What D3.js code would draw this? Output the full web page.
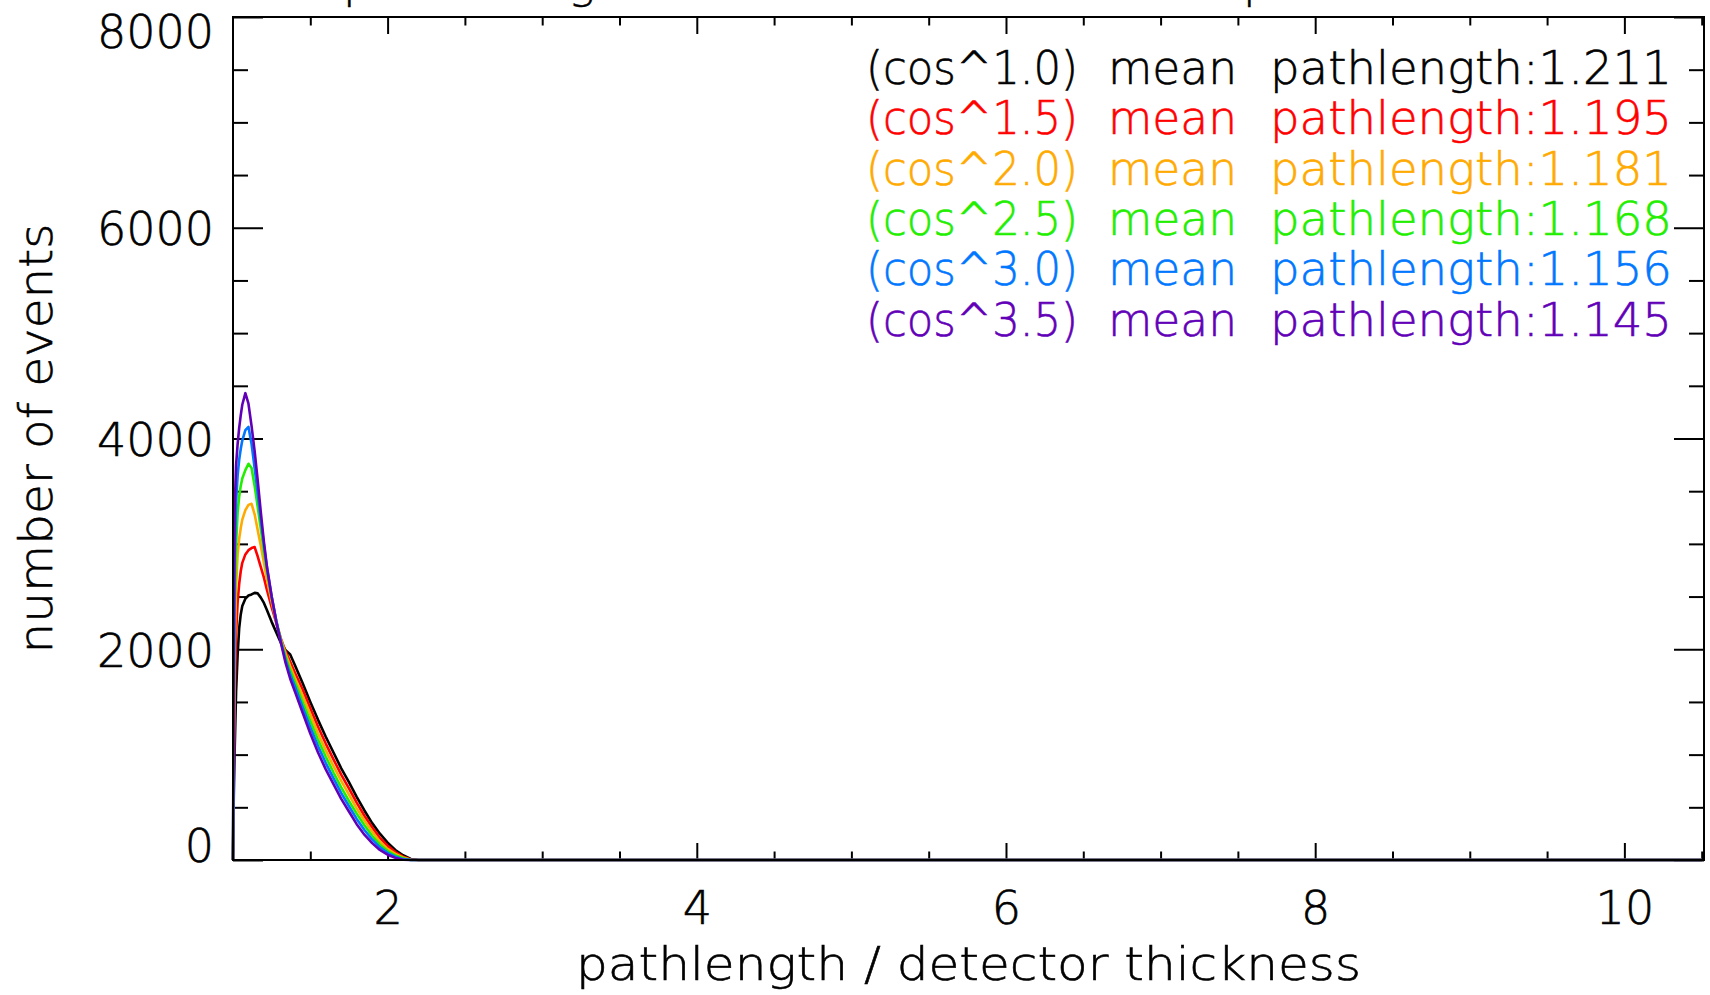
<!DOCTYPE html>
<meta charset="utf-8">
<script src="https://d3js.org/d3.v7.min.js"></script>
<style>
	body { margin: 0; background: #fff; }
	text { font-family: "DejaVu Sans", sans-serif; font-size: 46px; font-weight: 200; stroke-width: 0.6px; }
</style>
<div id="chart"></div>
<script>
	// Bin positions (pathlength / detector thickness)
	var pathlength = [1.00, 1.005, 1.01, 1.02, 1.03, 1.04, 1.05, 1.06, 1.08, 1.10, 1.12, 1.14, 1.16, 1.18, 1.20, 1.22, 1.25, 1.28, 1.31, 1.34, 1.37, 1.40,
		1.45, 1.50, 1.55, 1.60, 1.65, 1.70, 1.75, 1.80, 1.85, 1.90, 1.95, 2.00, 2.05, 2.10, 2.15, 2.20, 10.5];

	// Number of events per bin, one array per zenith power
	var cos10 = [0, 600, 1000, 1600, 1950, 2200, 2330, 2410, 2480, 2510, 2520, 2535, 2530, 2490, 2440, 2370, 2260, 2160, 2060, 1990, 1950, 1850,
		1680, 1500, 1330, 1170, 1020, 870, 740, 600, 470, 350, 250, 165, 95, 45, 10, 0, 0];
	var cos15 = [0, 800, 1500, 2150, 2450, 2620, 2740, 2820, 2900, 2940, 2960, 2970, 2880, 2780, 2680, 2560, 2400, 2250, 2100, 1980, 1880, 1780,
		1620, 1440, 1265, 1105, 955, 810, 680, 545, 420, 310, 210, 135, 75, 32, 5, 0, 0];
	var cos20 = [0, 1000, 1900, 2600, 2900, 3050, 3150, 3230, 3320, 3370, 3380, 3280, 3130, 2980, 2820, 2660, 2450, 2260, 2090, 1960, 1840, 1730,
		1560, 1380, 1200, 1040, 890, 750, 620, 490, 375, 270, 175, 105, 58, 24, 2, 0, 0];
	var cos25 = [0, 1200, 2300, 3000, 3300, 3450, 3550, 3620, 3700, 3760, 3720, 3550, 3350, 3140, 2930, 2740, 2490, 2270, 2080, 1930, 1800, 1690,
		1500, 1320, 1140, 980, 830, 690, 560, 440, 330, 230, 145, 85, 44, 16, 0, 0, 0];
	var cos30 = [0, 1500, 2800, 3400, 3650, 3800, 3900, 3980, 4080, 4110, 3950, 3720, 3480, 3230, 2990, 2770, 2500, 2270, 2070, 1900, 1760, 1650,
		1450, 1260, 1080, 920, 775, 635, 510, 390, 285, 195, 120, 68, 32, 8, 0, 0, 0];
	var cos35 = [0, 2000, 3300, 3750, 3950, 4100, 4220, 4320, 4430, 4330, 4120, 3880, 3600, 3300, 3020, 2780, 2500, 2260, 2060, 1870, 1720, 1600,
		1400, 1200, 1020, 860, 720, 580, 460, 340, 240, 160, 95, 50, 20, 2, 0, 0, 0];

	var seriesValues = [cos10, cos15, cos20, cos25, cos30, cos35];
	var seriesLabels = ["(cos^1.0)", "(cos^1.5)", "(cos^2.0)", "(cos^2.5)", "(cos^3.0)", "(cos^3.5)"];
	var meanPathlength = ["1.211", "1.195", "1.181", "1.168", "1.156", "1.145"];
	var lineColors = ["#000000", "#ff0000", "#ffaa00", "#22ee00", "#0077ff", "#6200b8"];

	var xMajorTicks = [2, 4, 6, 8, 10];
	var yMajorTicks = [0, 2000, 4000, 6000, 8000];

	// Layout (plot box in pixels)
	var width = 1710, height = 995;
	var box = {left: 233, right: 1704, top: 17, bottom: 860};
	var lw = 2;

	var svg = d3.select("#chart")
		.append("svg")
		.attr("width", width)
		.attr("height", height);
	svg.append("rect").attr("width", width).attr("height", height).attr("fill", "#fff");

	var x = d3.scaleLinear().domain([1, 10.515]).range([box.left, box.right]);
	var y = d3.scaleLinear().domain([0, 8000]).range([box.bottom, box.top]);

	var xMinor = d3.range(1.5, 10.51, 0.5).filter(v => xMajorTicks.indexOf(v) < 0);
	var yMinor = d3.range(500, 8000, 500).filter(v => yMajorTicks.indexOf(v) < 0);

	// ticks pointing inwards on all four sides
	function addAxis(axis, tx, ty) {
		var g = svg.append("g")
			.attr("transform", "translate(" + tx + "," + ty + ")")
			.call(axis);
		g.select(".domain").remove();
		g.selectAll("line").attr("stroke", "#000").attr("stroke-width", lw);
		return g;
	}
	var xLen = 17, yLen = 30;
	addAxis(d3.axisBottom(x).tickValues(xMinor).tickSize(-xLen / 2).tickFormat(""), 0, box.bottom);
	addAxis(d3.axisTop(x).tickValues(xMinor).tickSize(-xLen / 2).tickFormat(""), 0, box.top);
	addAxis(d3.axisLeft(y).tickValues(yMinor).tickSize(-yLen / 2).tickFormat(""), box.left, 0);
	addAxis(d3.axisRight(y).tickValues(yMinor).tickSize(-yLen / 2).tickFormat(""), box.right, 0);
	addAxis(d3.axisTop(x).tickValues(xMajorTicks).tickSize(-xLen).tickFormat(""), 0, box.top);
	addAxis(d3.axisRight(y).tickValues(yMajorTicks).tickSize(-yLen).tickFormat(""), box.right, 0);

	var xAxis = addAxis(d3.axisBottom(x).tickValues(xMajorTicks).tickSize(-xLen).tickFormat(d3.format("d")), 0, box.bottom);
	xAxis.selectAll("text")
		.attr("y", 64).attr("dy", null)
		.attr("fill", "#000").attr("stroke", "#000")
		.style("font-size", "46px");

	var yAxis = addAxis(d3.axisLeft(y).tickValues(yMajorTicks).tickSize(-yLen).tickFormat(d3.format("d")), box.left, 0);
	yAxis.selectAll("text")
		.attr("x", 214 - box.left).attr("dy", null)
		.attr("y", d => Math.max(Math.min(y(d) + 17, 861), 47) - y(d))
		.attr("fill", "#000").attr("stroke", "#000")
		.style("font-size", "46px");

	// Curves
	var line = d3.line()
		.x((d, i) => x(pathlength[i]))
		.y(d => y(d));
	var plot = svg.append("g");
	seriesValues.forEach(function(vals, k) {
		plot.append("path")
			.datum(vals)
			.attr("fill", "none")
			.attr("stroke", lineColors[k])
			.attr("stroke-width", 2.6)
			.attr("stroke-linejoin", "round")
			.attr("d", line);
	});

	// Frame
	svg.append("rect")
		.attr("x", box.left).attr("y", box.top)
		.attr("width", box.right - box.left).attr("height", box.bottom - box.top)
		.attr("fill", "none").attr("stroke", "#000").attr("stroke-width", lw);

	// Legend
	var legend = svg.append("g");
	seriesLabels.forEach(function(lab, k) {
		var by = 84 + k * 50.3;
		legend.append("text").attr("x", 866).attr("y", by).attr("fill", lineColors[k]).attr("stroke", lineColors[k])
			.attr("textLength", 212).attr("lengthAdjust", "spacingAndGlyphs").text(lab);
		legend.append("text").attr("x", 1108).attr("y", by).attr("fill", lineColors[k]).attr("stroke", lineColors[k])
			.attr("textLength", 129).attr("lengthAdjust", "spacingAndGlyphs").text("mean");
		legend.append("text").attr("x", 1270).attr("y", by).attr("fill", lineColors[k]).attr("stroke", lineColors[k])
			.attr("textLength", 402).attr("lengthAdjust", "spacingAndGlyphs").text("pathlength:" + meanPathlength[k]);
	});

	// Axis titles
	svg.append("text")
		.attr("x", (box.left + box.right) / 2).attr("y", 980)
		.attr("text-anchor", "middle").attr("stroke", "#000")
		.attr("textLength", 785).attr("lengthAdjust", "spacingAndGlyphs")
		.text("pathlength / detector thickness");
	svg.append("text")
		.attr("transform", "translate(52," + (box.top + box.bottom) / 2 + ") rotate(-90)")
		.attr("text-anchor", "middle").attr("stroke", "#000")
		.attr("textLength", 430).attr("lengthAdjust", "spacingAndGlyphs")
		.text("number of events");

	// Title, cut off by the top of the picture (only descenders show)
	var title = svg.append("text").attr("y", -2).attr("stroke", "#000");
	title.append("tspan").attr("x", 343).text("path");
	title.append("tspan").attr("x", 498).text("length");
	title.append("tspan").attr("x", 680).text("distribution of cos^n");
	title.append("tspan").attr("x", 1219).text("spectra");
</script>
